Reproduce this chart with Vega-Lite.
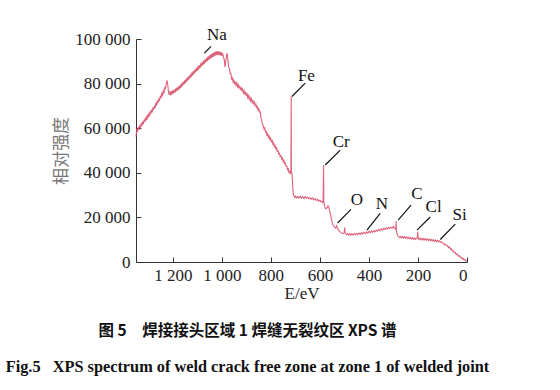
{
  "$schema": "https://vega.github.io/schema/vega-lite/v6.json",
  "width": 331,
  "height": 223,
  "autosize": "none",
  "padding": {"left": 136, "top": 39, "right": 93, "bottom": 128},
  "background": "white",
  "config": {
    "view": {"stroke": null},
    "axis": {"grid": false, "domainColor": "#333", "tickColor": "#333", "labelColor": "#222", "labelFont": "Liberation Serif", "labelFontSize": 17, "titleFontWeight": "normal"}
  },
  "title": {
    "text": "图 5\u3000焊接接头区域 1 焊缝无裂纹区 XPS 谱",
    "subtitle": "Fig.5\u2002 XPS spectrum of weld crack free zone at zone 1 of welded joint",
    "orient": "bottom",
    "anchor": "middle",
    "font": "Noto Sans CJK SC",
    "fontSize": 15.5,
    "fontWeight": "bold",
    "color": "#111",
    "subtitleFont": "Liberation Serif",
    "subtitleFontSize": 16.3,
    "subtitleFontWeight": "bold",
    "subtitleColor": "#111",
    "subtitlePadding": 19,
    "dx": -54,
    "offset": 23
  },
  "datasets": {
    "spectrum": [
      {"E":1350,"I":56200},{"E":1347,"I":59300},{"E":1344,"I":58700},{"E":1341,"I":60500},{"E":1338,"I":59200},{"E":1335,"I":61300},{"E":1332,"I":60300},{"E":1329,"I":61900},{"E":1326,"I":60900},{"E":1323,"I":63000},{"E":1320,"I":61800},{"E":1317,"I":63900},{"E":1314,"I":62800},{"E":1311,"I":64900},{"E":1308,"I":63500},{"E":1305,"I":65400},{"E":1302,"I":64500},{"E":1299,"I":66600},{"E":1296,"I":65200},{"E":1293,"I":67500},{"E":1290,"I":66300},{"E":1287,"I":68300},{"E":1284,"I":67100},{"E":1281,"I":69300},{"E":1278,"I":68200},{"E":1275,"I":70100},{"E":1272,"I":69000},{"E":1269,"I":71500},{"E":1266,"I":70100},{"E":1263,"I":72400},{"E":1260,"I":71200},{"E":1257,"I":73300},{"E":1254,"I":72200},{"E":1251,"I":74600},{"E":1248,"I":73500},{"E":1245,"I":75600},{"E":1242,"I":74800},{"E":1239,"I":76700},{"E":1236,"I":75900},{"E":1233,"I":78200},{"E":1230,"I":77800},{"E":1227,"I":80000},{"E":1224,"I":81500},{"E":1221,"I":79800},{"E":1218,"I":76800},{"E":1215,"I":75000},{"E":1212,"I":76100},{"E":1209,"I":74700},{"E":1206,"I":76600},{"E":1203,"I":75100},{"E":1200,"I":77000},{"E":1197,"I":75600},{"E":1194,"I":77300},{"E":1191,"I":75900},{"E":1188,"I":77800},{"E":1185,"I":76600},{"E":1182,"I":78300},{"E":1179,"I":76900},{"E":1176,"I":78800},{"E":1173,"I":77500},{"E":1170,"I":79400},{"E":1167,"I":78100},{"E":1164,"I":80100},{"E":1161,"I":78800},{"E":1158,"I":80800},{"E":1155,"I":79500},{"E":1152,"I":81400},{"E":1149,"I":80100},{"E":1146,"I":82100},{"E":1143,"I":80900},{"E":1140,"I":82800},{"E":1137,"I":81500},{"E":1134,"I":83500},{"E":1131,"I":82200},{"E":1128,"I":84200},{"E":1125,"I":82900},{"E":1122,"I":85000},{"E":1119,"I":83600},{"E":1116,"I":85600},{"E":1113,"I":84300},{"E":1110,"I":86300},{"E":1107,"I":85000},{"E":1104,"I":87000},{"E":1101,"I":85600},{"E":1098,"I":87700},{"E":1095,"I":86300},{"E":1092,"I":88300},{"E":1089,"I":86900},{"E":1086,"I":89100},{"E":1083,"I":87700},{"E":1080,"I":89700},{"E":1077,"I":88300},{"E":1074,"I":90300},{"E":1071,"I":88900},{"E":1068,"I":90900},{"E":1065,"I":89500},{"E":1062,"I":91600},{"E":1059,"I":90100},{"E":1056,"I":92200},{"E":1053,"I":90600},{"E":1050,"I":92700},{"E":1047,"I":91200},{"E":1044,"I":93200},{"E":1041,"I":91600},{"E":1038,"I":93600},{"E":1035,"I":92000},{"E":1032,"I":94000},{"E":1029,"I":92400},{"E":1026,"I":94400},{"E":1023,"I":92700},{"E":1020,"I":94600},{"E":1017,"I":92900},{"E":1014,"I":94500},{"E":1011,"I":92800},{"E":1008,"I":94300},{"E":1005,"I":92600},{"E":1002,"I":94100},{"E":999,"I":92400},{"E":996,"I":93500},{"E":993,"I":91600},{"E":990,"I":90800},{"E":987,"I":87500},{"E":984,"I":89900},{"E":981,"I":92700},{"E":978,"I":93600},{"E":975,"I":90300},{"E":972,"I":87300},{"E":969,"I":86800},{"E":966,"I":84500},{"E":963,"I":84600},{"E":960,"I":82200},{"E":957,"I":82600},{"E":954,"I":80700},{"E":951,"I":81500},{"E":948,"I":79800},{"E":945,"I":80900},{"E":942,"I":79300},{"E":939,"I":80300},{"E":936,"I":78700},{"E":933,"I":79600},{"E":930,"I":77900},{"E":927,"I":79000},{"E":924,"I":77200},{"E":921,"I":78300},{"E":918,"I":76500},{"E":915,"I":77500},{"E":912,"I":75800},{"E":909,"I":76700},{"E":906,"I":75100},{"E":903,"I":76300},{"E":900,"I":74400},{"E":897,"I":75400},{"E":894,"I":73700},{"E":891,"I":74600},{"E":888,"I":72900},{"E":885,"I":73900},{"E":882,"I":72200},{"E":879,"I":73100},{"E":876,"I":71500},{"E":873,"I":72300},{"E":870,"I":71000},{"E":867,"I":71700},{"E":864,"I":70100},{"E":861,"I":70800},{"E":858,"I":69300},{"E":855,"I":69700},{"E":852,"I":68000},{"E":849,"I":68700},{"E":846,"I":67200},{"E":843,"I":67300},{"E":840,"I":64800},{"E":837,"I":63200},{"E":834,"I":61600},{"E":831,"I":61200},{"E":828,"I":59700},{"E":825,"I":60100},{"E":822,"I":58300},{"E":819,"I":58600},{"E":816,"I":56900},{"E":813,"I":57500},{"E":810,"I":55900},{"E":807,"I":56500},{"E":804,"I":54900},{"E":801,"I":55600},{"E":798,"I":54000},{"E":795,"I":54600},{"E":792,"I":53000},{"E":789,"I":53500},{"E":786,"I":51800},{"E":783,"I":52300},{"E":780,"I":50800},{"E":777,"I":51200},{"E":774,"I":49700},{"E":771,"I":50000},{"E":768,"I":48500},{"E":765,"I":48800},{"E":762,"I":47300},{"E":759,"I":47700},{"E":756,"I":46200},{"E":753,"I":46700},{"E":750,"I":45000},{"E":747,"I":45600},{"E":744,"I":44100},{"E":741,"I":44400},{"E":738,"I":42900},{"E":735,"I":43000},{"E":732,"I":41400},{"E":729,"I":41800},{"E":726,"I":40100},{"E":723,"I":40600},{"E":720,"I":39800},{"E":718,"I":41200},{"E":717,"I":74200},{"E":716,"I":40500},{"E":714,"I":39700},{"E":712,"I":36500},{"E":710,"I":32000},{"E":708,"I":30000},{"E":705,"I":29600},{"E":702,"I":28900},{"E":699,"I":29500},{"E":695,"I":28700},{"E":690,"I":29400},{"E":685,"I":28700},{"E":680,"I":29500},{"E":675,"I":28600},{"E":670,"I":29300},{"E":665,"I":28500},{"E":660,"I":29400},{"E":655,"I":28600},{"E":650,"I":29100},{"E":645,"I":28300},{"E":640,"I":28900},{"E":635,"I":28100},{"E":630,"I":28700},{"E":625,"I":27900},{"E":620,"I":28500},{"E":615,"I":27600},{"E":610,"I":28100},{"E":605,"I":27300},{"E":600,"I":27800},{"E":596,"I":27000},{"E":592,"I":27200},{"E":589,"I":26600},{"E":587,"I":27300},{"E":585,"I":43500},{"E":584,"I":27000},{"E":582,"I":25800},{"E":579,"I":24200},{"E":576,"I":23900},{"E":573,"I":24100},{"E":570,"I":24500},{"E":567,"I":25200},{"E":564,"I":24800},{"E":561,"I":23400},{"E":558,"I":21900},{"E":555,"I":20300},{"E":552,"I":18800},{"E":549,"I":17400},{"E":546,"I":16500},{"E":543,"I":16000},{"E":540,"I":15700},{"E":537,"I":15200},{"E":534,"I":15600},{"E":531,"I":16300},{"E":528,"I":15000},{"E":525,"I":14500},{"E":522,"I":14100},{"E":519,"I":13600},{"E":516,"I":13300},{"E":512,"I":13000},{"E":508,"I":12900},{"E":504,"I":12700},{"E":501,"I":13200},{"E":499,"I":15500},{"E":497,"I":13000},{"E":494,"I":12600},{"E":490,"I":12200},{"E":486,"I":12800},{"E":482,"I":12100},{"E":478,"I":12700},{"E":474,"I":12000},{"E":470,"I":12600},{"E":465,"I":12100},{"E":460,"I":12800},{"E":455,"I":12200},{"E":450,"I":12900},{"E":445,"I":12300},{"E":440,"I":13000},{"E":435,"I":12400},{"E":430,"I":13200},{"E":425,"I":12600},{"E":420,"I":13300},{"E":415,"I":12700},{"E":410,"I":13500},{"E":405,"I":12900},{"E":400,"I":13700},{"E":395,"I":13100},{"E":390,"I":13900},{"E":385,"I":13300},{"E":380,"I":14100},{"E":375,"I":13500},{"E":370,"I":14300},{"E":365,"I":13800},{"E":360,"I":14600},{"E":355,"I":14100},{"E":350,"I":14900},{"E":345,"I":14300},{"E":340,"I":15100},{"E":335,"I":14600},{"E":330,"I":15300},{"E":325,"I":14700},{"E":320,"I":15500},{"E":315,"I":15000},{"E":310,"I":15700},{"E":305,"I":15200},{"E":300,"I":15900},{"E":297,"I":15400},{"E":294,"I":15200},{"E":292,"I":14500},{"E":290,"I":15600},{"E":289,"I":18400},{"E":288,"I":14000},{"E":286,"I":12800},{"E":284,"I":12300},{"E":281,"I":11500},{"E":278,"I":11300},{"E":274,"I":10900},{"E":270,"I":11500},{"E":266,"I":10800},{"E":262,"I":11400},{"E":258,"I":10700},{"E":254,"I":11300},{"E":250,"I":10600},{"E":246,"I":11200},{"E":242,"I":10500},{"E":238,"I":11100},{"E":234,"I":10400},{"E":230,"I":11000},{"E":226,"I":10300},{"E":222,"I":10900},{"E":218,"I":10200},{"E":214,"I":10800},{"E":210,"I":10100},{"E":206,"I":10700},{"E":203,"I":10800},{"E":201,"I":13500},{"E":199,"I":10600},{"E":196,"I":10100},{"E":192,"I":10700},{"E":188,"I":10000},{"E":184,"I":10600},{"E":180,"I":9900},{"E":176,"I":10500},{"E":172,"I":9800},{"E":168,"I":10400},{"E":164,"I":9700},{"E":160,"I":10300},{"E":156,"I":9600},{"E":152,"I":10200},{"E":148,"I":9500},{"E":144,"I":10100},{"E":140,"I":9400},{"E":136,"I":10000},{"E":132,"I":9300},{"E":128,"I":9900},{"E":124,"I":9200},{"E":120,"I":9700},{"E":116,"I":9000},{"E":112,"I":9500},{"E":108,"I":8900},{"E":104,"I":9000},{"E":100,"I":8500},{"E":96,"I":8400},{"E":92,"I":7800},{"E":88,"I":7900},{"E":84,"I":7500},{"E":80,"I":7300},{"E":76,"I":6500},{"E":72,"I":6900},{"E":68,"I":5800},{"E":64,"I":6000},{"E":60,"I":4900},{"E":56,"I":5100},{"E":52,"I":4100},{"E":48,"I":4300},{"E":44,"I":3400},{"E":40,"I":3600},{"E":36,"I":2700},{"E":32,"I":2900},{"E":28,"I":2100},{"E":24,"I":2300},{"E":20,"I":1400},{"E":16,"I":1700},{"E":12,"I":900},{"E":8,"I":1100},{"E":4,"I":500},{"E":0,"I":400}
    ],
    "labels": [
      {"name":"Na","E":1020,"I":101900,"E1":1071,"I1":93700,"E2":1044,"I2":96700},
      {"name":"Fe","E":655,"I":83500,"E1":714,"I1":74200,"E2":660,"I2":80200},
      {"name":"Cr","E":513,"I":54000,"E1":578,"I1":43500,"E2":517,"I2":50200},
      {"name":"O","E":449,"I":27700,"E1":528,"I1":17500,"E2":473,"I2":23600},
      {"name":"N","E":347,"I":25900,"E1":408,"I1":14300,"E2":354,"I2":21800},
      {"name":"C","E":204,"I":30400,"E1":281,"I1":18800,"E2":228,"I2":25500},
      {"name":"Cl","E":136,"I":24700,"E1":204,"I1":14300,"E2":150,"I2":20200},
      {"name":"Si","E":30,"I":21000,"E1":109,"I1":10100,"E2":48,"I2":17000}
    ]
  },
  "layer": [
    {
      "data": {"name": "spectrum"},
      "mark": {"type": "line", "color": "#d9506a", "strokeWidth": 1.1, "opacity": 0.9},
      "encoding": {
        "x": {
          "field": "E", "type": "quantitative",
          "scale": {"domain": [0, 1350], "reverse": true, "nice": false},
          "axis": {
            "values": [0, 200, 400, 600, 800, 1000, 1200],
            "labelExpr": "replace(format(datum.value, ','), regexp(',', 'g'), ' ')",
            "tickSize": -5, "labelPadding": 10,
            "title": "E/eV", "titleFont": "Liberation Serif", "titleFontSize": 17, "titleColor": "#222", "titlePadding": 2
          }
        },
        "y": {
          "field": "I", "type": "quantitative",
          "scale": {"domain": [0, 100000], "nice": false},
          "axis": {
            "values": [0, 20000, 40000, 60000, 80000, 100000],
            "labelExpr": "replace(format(datum.value, ','), regexp(',', 'g'), ' ')",
            "tickSize": -5, "labelPadding": 11,
            "title": "相对强度", "titleFont": "Noto Sans CJK SC", "titleFontSize": 17, "titleColor": "#777", "titlePadding": 4
          }
        }
      }
    },
    {
      "data": {"name": "labels"},
      "mark": {"type": "rule", "color": "#111", "strokeWidth": 1.2},
      "encoding": {
        "x": {"field": "E1", "type": "quantitative"},
        "x2": {"field": "E2"},
        "y": {"field": "I1", "type": "quantitative"},
        "y2": {"field": "I2"}
      }
    },
    {
      "data": {"name": "labels"},
      "mark": {"type": "text", "font": "Liberation Serif", "fontSize": 17, "color": "#111", "align": "center", "baseline": "middle"},
      "encoding": {
        "x": {"field": "E", "type": "quantitative"},
        "y": {"field": "I", "type": "quantitative"},
        "text": {"field": "name"}
      }
    }
  ]
}
